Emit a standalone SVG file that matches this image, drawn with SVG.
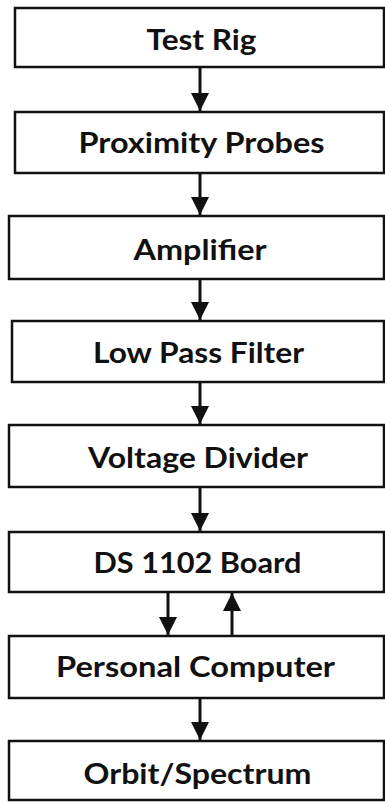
<svg xmlns="http://www.w3.org/2000/svg" width="385" height="802" viewBox="0 0 385 802">
<defs>
<style>
.box{fill:#fff;stroke:#111;stroke-width:2.5}
.lbl{font-family:Lato,"Open Sans","Liberation Sans",sans-serif;font-weight:bold;font-size:29px;fill:#111;text-anchor:middle}
.con{stroke:#111;stroke-width:3;fill:none}
</style>
<marker id="ah" viewBox="0 0 10 10" refX="10" refY="5" markerWidth="6" markerHeight="6" markerUnits="strokeWidth" orient="auto">
<path d="M0,0 L10,5 L0,10 z" fill="#111"/>
</marker>
</defs>
<rect width="385" height="802" fill="#fff"/>
<g id="test-rig"><rect class="box" x="15" y="8" width="369" height="59"/><text class="lbl" x="201.5" y="50" textLength="110" lengthAdjust="spacingAndGlyphs">Test Rig</text></g>
<g id="proximity-probes"><rect class="box" x="15" y="112" width="369" height="61"/><text class="lbl" x="201.5" y="153" textLength="246" lengthAdjust="spacingAndGlyphs">Proximity Probes</text></g>
<g id="amplifier"><rect class="box" x="9" y="216" width="375" height="63"/><text class="lbl" x="200" y="260" textLength="133" lengthAdjust="spacingAndGlyphs">Amplifier</text></g>
<g id="low-pass-filter"><rect class="box" x="12" y="321" width="372" height="61"/><text class="lbl" x="198.5" y="363" textLength="211" lengthAdjust="spacingAndGlyphs">Low Pass Filter</text></g>
<g id="voltage-divider"><rect class="box" x="9" y="425" width="375" height="62"/><text class="lbl" x="198" y="468" textLength="220" lengthAdjust="spacingAndGlyphs">Voltage Divider</text></g>
<g id="ds1102-board"><rect class="box" x="9" y="532" width="375" height="60"/><text class="lbl" x="197.5" y="573" textLength="208" lengthAdjust="spacingAndGlyphs">DS 1102 Board</text></g>
<g id="personal-computer"><rect class="box" x="9" y="636" width="375" height="62"/><text class="lbl" x="195.5" y="677" textLength="279" lengthAdjust="spacingAndGlyphs">Personal Computer</text></g>
<g id="orbit-spectrum"><rect class="box" x="9" y="741" width="375" height="59"/><text class="lbl" x="197.5" y="784" textLength="228" lengthAdjust="spacingAndGlyphs">Orbit/Spectrum</text></g>
<g id="connectors">
<line class="con" x1="200" y1="67" x2="200" y2="111" marker-end="url(#ah)"/>
<line class="con" x1="200" y1="173" x2="200" y2="215" marker-end="url(#ah)"/>
<line class="con" x1="200" y1="279" x2="200" y2="320" marker-end="url(#ah)"/>
<line class="con" x1="200" y1="382" x2="200" y2="424" marker-end="url(#ah)"/>
<line class="con" x1="200" y1="487" x2="200" y2="531" marker-end="url(#ah)"/>
<line class="con" x1="168" y1="592" x2="168" y2="635" marker-end="url(#ah)"/>
<line class="con" x1="232" y1="636" x2="232" y2="593" marker-end="url(#ah)"/>
<line class="con" x1="200" y1="698" x2="200" y2="740" marker-end="url(#ah)"/>
</g>
</svg>
